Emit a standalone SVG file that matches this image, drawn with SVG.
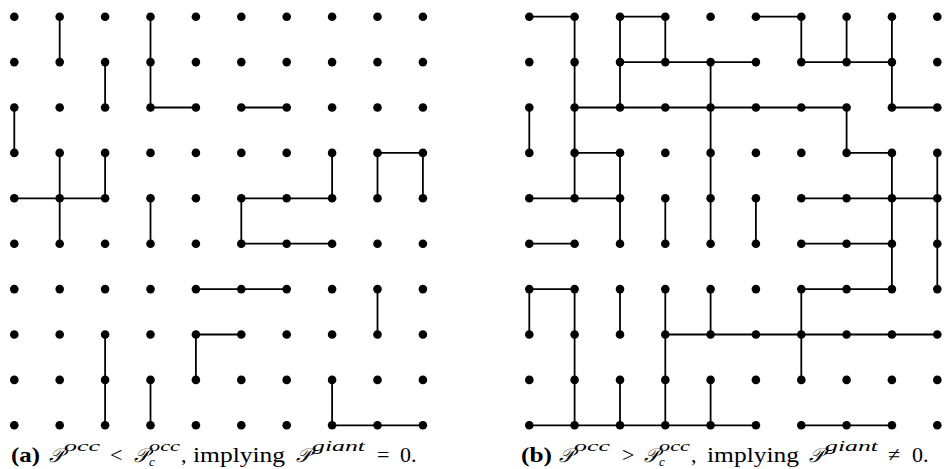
<svg xmlns="http://www.w3.org/2000/svg" width="946" height="469" viewBox="0 0 946 469">
<style>
.d{fill:#000}
.e line{stroke:#000;stroke-width:1.8}
text{font-family:"Liberation Serif","DejaVu Serif",serif;fill:#000}
.m{font-size:22px}
.b{font-weight:bold}
.s{font-size:15px;font-style:italic}
.u{font-size:13px;font-style:italic}
.p{font-size:20px;font-family:"DejaVu Sans","Noto Sans",serif;font-style:italic}
</style>
<g id="connectors" class="e">
<g id="conn-a">
<line x1="59.7" y1="16.7" x2="59.7" y2="62.1"/>
<line x1="150.5" y1="16.7" x2="150.5" y2="107.5"/>
<line x1="105.1" y1="62.1" x2="105.1" y2="107.5"/>
<line x1="14.3" y1="107.5" x2="14.3" y2="152.9"/>
<line x1="59.7" y1="152.9" x2="59.7" y2="243.7"/>
<line x1="105.1" y1="152.9" x2="105.1" y2="198.3"/>
<line x1="150.5" y1="198.3" x2="150.5" y2="243.7"/>
<line x1="332.1" y1="152.9" x2="332.1" y2="198.3"/>
<line x1="377.5" y1="152.9" x2="377.5" y2="198.3"/>
<line x1="422.9" y1="152.9" x2="422.9" y2="198.3"/>
<line x1="241.3" y1="198.3" x2="241.3" y2="243.7"/>
<line x1="195.9" y1="334.5" x2="195.9" y2="379.9"/>
<line x1="105.1" y1="334.5" x2="105.1" y2="425.3"/>
<line x1="150.5" y1="379.9" x2="150.5" y2="425.3"/>
<line x1="377.5" y1="289.1" x2="377.5" y2="334.5"/>
<line x1="332.1" y1="379.9" x2="332.1" y2="425.3"/>
<line x1="150.5" y1="107.5" x2="195.9" y2="107.5"/>
<line x1="14.3" y1="198.3" x2="105.1" y2="198.3"/>
<line x1="241.3" y1="107.5" x2="286.7" y2="107.5"/>
<line x1="377.5" y1="152.9" x2="422.9" y2="152.9"/>
<line x1="241.3" y1="198.3" x2="332.1" y2="198.3"/>
<line x1="241.3" y1="243.7" x2="332.1" y2="243.7"/>
<line x1="195.9" y1="289.1" x2="286.7" y2="289.1"/>
<line x1="195.9" y1="334.5" x2="241.3" y2="334.5"/>
<line x1="332.1" y1="425.3" x2="422.9" y2="425.3"/>
</g>
<g id="conn-b">
<line x1="574.6" y1="16.7" x2="574.6" y2="198.3"/>
<line x1="620" y1="16.7" x2="620" y2="107.5"/>
<line x1="665.3" y1="16.7" x2="665.3" y2="62.1"/>
<line x1="710.6" y1="62.1" x2="710.6" y2="243.7"/>
<line x1="529.3" y1="107.5" x2="529.3" y2="152.9"/>
<line x1="620" y1="152.9" x2="620" y2="243.7"/>
<line x1="665.3" y1="198.3" x2="665.3" y2="243.7"/>
<line x1="801.3" y1="16.7" x2="801.3" y2="62.1"/>
<line x1="846.6" y1="16.7" x2="846.6" y2="62.1"/>
<line x1="891.9" y1="16.7" x2="891.9" y2="107.5"/>
<line x1="846.6" y1="107.5" x2="846.6" y2="152.9"/>
<line x1="891.9" y1="152.9" x2="891.9" y2="289.1"/>
<line x1="937.3" y1="152.9" x2="937.3" y2="289.1"/>
<line x1="755.9" y1="198.3" x2="755.9" y2="243.7"/>
<line x1="529.3" y1="289.1" x2="529.3" y2="334.5"/>
<line x1="574.6" y1="289.1" x2="574.6" y2="425.3"/>
<line x1="620" y1="289.1" x2="620" y2="334.5"/>
<line x1="665.3" y1="289.1" x2="665.3" y2="425.3"/>
<line x1="710.6" y1="289.1" x2="710.6" y2="334.5"/>
<line x1="620" y1="379.9" x2="620" y2="425.3"/>
<line x1="710.6" y1="379.9" x2="710.6" y2="425.3"/>
<line x1="801.3" y1="289.1" x2="801.3" y2="379.9"/>
<line x1="529.3" y1="16.7" x2="574.6" y2="16.7"/>
<line x1="620" y1="16.7" x2="665.3" y2="16.7"/>
<line x1="755.9" y1="16.7" x2="801.3" y2="16.7"/>
<line x1="620" y1="62.1" x2="755.9" y2="62.1"/>
<line x1="801.3" y1="62.1" x2="891.9" y2="62.1"/>
<line x1="574.6" y1="107.5" x2="846.6" y2="107.5"/>
<line x1="891.9" y1="107.5" x2="937.3" y2="107.5"/>
<line x1="574.6" y1="152.9" x2="620" y2="152.9"/>
<line x1="846.6" y1="152.9" x2="891.9" y2="152.9"/>
<line x1="529.3" y1="198.3" x2="620" y2="198.3"/>
<line x1="801.3" y1="198.3" x2="937.3" y2="198.3"/>
<line x1="529.3" y1="243.7" x2="574.6" y2="243.7"/>
<line x1="801.3" y1="243.7" x2="891.9" y2="243.7"/>
<line x1="529.3" y1="289.1" x2="574.6" y2="289.1"/>
<line x1="801.3" y1="289.1" x2="891.9" y2="289.1"/>
<line x1="665.3" y1="334.5" x2="937.3" y2="334.5"/>
<line x1="529.3" y1="425.3" x2="755.9" y2="425.3"/>
<line x1="801.3" y1="425.3" x2="891.9" y2="425.3"/>
</g>
</g>
<g id="nodes-a" class="d">
<g id="a0-0"><circle cx="14.3" cy="16.7" r="4.3"/></g><g id="a1-0"><circle cx="59.7" cy="16.7" r="4.3"/></g><g id="a2-0"><circle cx="105.1" cy="16.7" r="4.3"/></g><g id="a3-0"><circle cx="150.5" cy="16.7" r="4.3"/></g><g id="a4-0"><circle cx="195.9" cy="16.7" r="4.3"/></g><g id="a5-0"><circle cx="241.3" cy="16.7" r="4.3"/></g><g id="a6-0"><circle cx="286.7" cy="16.7" r="4.3"/></g><g id="a7-0"><circle cx="332.1" cy="16.7" r="4.3"/></g><g id="a8-0"><circle cx="377.5" cy="16.7" r="4.3"/></g><g id="a9-0"><circle cx="422.9" cy="16.7" r="4.3"/></g>
<g id="a0-1"><circle cx="14.3" cy="62.1" r="4.3"/></g><g id="a1-1"><circle cx="59.7" cy="62.1" r="4.3"/></g><g id="a2-1"><circle cx="105.1" cy="62.1" r="4.3"/></g><g id="a3-1"><circle cx="150.5" cy="62.1" r="4.3"/></g><g id="a4-1"><circle cx="195.9" cy="62.1" r="4.3"/></g><g id="a5-1"><circle cx="241.3" cy="62.1" r="4.3"/></g><g id="a6-1"><circle cx="286.7" cy="62.1" r="4.3"/></g><g id="a7-1"><circle cx="332.1" cy="62.1" r="4.3"/></g><g id="a8-1"><circle cx="377.5" cy="62.1" r="4.3"/></g><g id="a9-1"><circle cx="422.9" cy="62.1" r="4.3"/></g>
<g id="a0-2"><circle cx="14.3" cy="107.5" r="4.3"/></g><g id="a1-2"><circle cx="59.7" cy="107.5" r="4.3"/></g><g id="a2-2"><circle cx="105.1" cy="107.5" r="4.3"/></g><g id="a3-2"><circle cx="150.5" cy="107.5" r="4.3"/></g><g id="a4-2"><circle cx="195.9" cy="107.5" r="4.3"/></g><g id="a5-2"><circle cx="241.3" cy="107.5" r="4.3"/></g><g id="a6-2"><circle cx="286.7" cy="107.5" r="4.3"/></g><g id="a7-2"><circle cx="332.1" cy="107.5" r="4.3"/></g><g id="a8-2"><circle cx="377.5" cy="107.5" r="4.3"/></g><g id="a9-2"><circle cx="422.9" cy="107.5" r="4.3"/></g>
<g id="a0-3"><circle cx="14.3" cy="152.9" r="4.3"/></g><g id="a1-3"><circle cx="59.7" cy="152.9" r="4.3"/></g><g id="a2-3"><circle cx="105.1" cy="152.9" r="4.3"/></g><g id="a3-3"><circle cx="150.5" cy="152.9" r="4.3"/></g><g id="a4-3"><circle cx="195.9" cy="152.9" r="4.3"/></g><g id="a5-3"><circle cx="241.3" cy="152.9" r="4.3"/></g><g id="a6-3"><circle cx="286.7" cy="152.9" r="4.3"/></g><g id="a7-3"><circle cx="332.1" cy="152.9" r="4.3"/></g><g id="a8-3"><circle cx="377.5" cy="152.9" r="4.3"/></g><g id="a9-3"><circle cx="422.9" cy="152.9" r="4.3"/></g>
<g id="a0-4"><circle cx="14.3" cy="198.3" r="4.3"/></g><g id="a1-4"><circle cx="59.7" cy="198.3" r="4.3"/></g><g id="a2-4"><circle cx="105.1" cy="198.3" r="4.3"/></g><g id="a3-4"><circle cx="150.5" cy="198.3" r="4.3"/></g><g id="a4-4"><circle cx="195.9" cy="198.3" r="4.3"/></g><g id="a5-4"><circle cx="241.3" cy="198.3" r="4.3"/></g><g id="a6-4"><circle cx="286.7" cy="198.3" r="4.3"/></g><g id="a7-4"><circle cx="332.1" cy="198.3" r="4.3"/></g><g id="a8-4"><circle cx="377.5" cy="198.3" r="4.3"/></g><g id="a9-4"><circle cx="422.9" cy="198.3" r="4.3"/></g>
<g id="a0-5"><circle cx="14.3" cy="243.7" r="4.3"/></g><g id="a1-5"><circle cx="59.7" cy="243.7" r="4.3"/></g><g id="a2-5"><circle cx="105.1" cy="243.7" r="4.3"/></g><g id="a3-5"><circle cx="150.5" cy="243.7" r="4.3"/></g><g id="a4-5"><circle cx="195.9" cy="243.7" r="4.3"/></g><g id="a5-5"><circle cx="241.3" cy="243.7" r="4.3"/></g><g id="a6-5"><circle cx="286.7" cy="243.7" r="4.3"/></g><g id="a7-5"><circle cx="332.1" cy="243.7" r="4.3"/></g><g id="a8-5"><circle cx="377.5" cy="243.7" r="4.3"/></g><g id="a9-5"><circle cx="422.9" cy="243.7" r="4.3"/></g>
<g id="a0-6"><circle cx="14.3" cy="289.1" r="4.3"/></g><g id="a1-6"><circle cx="59.7" cy="289.1" r="4.3"/></g><g id="a2-6"><circle cx="105.1" cy="289.1" r="4.3"/></g><g id="a3-6"><circle cx="150.5" cy="289.1" r="4.3"/></g><g id="a4-6"><circle cx="195.9" cy="289.1" r="4.3"/></g><g id="a5-6"><circle cx="241.3" cy="289.1" r="4.3"/></g><g id="a6-6"><circle cx="286.7" cy="289.1" r="4.3"/></g><g id="a7-6"><circle cx="332.1" cy="289.1" r="4.3"/></g><g id="a8-6"><circle cx="377.5" cy="289.1" r="4.3"/></g><g id="a9-6"><circle cx="422.9" cy="289.1" r="4.3"/></g>
<g id="a0-7"><circle cx="14.3" cy="334.5" r="4.3"/></g><g id="a1-7"><circle cx="59.7" cy="334.5" r="4.3"/></g><g id="a2-7"><circle cx="105.1" cy="334.5" r="4.3"/></g><g id="a3-7"><circle cx="150.5" cy="334.5" r="4.3"/></g><g id="a4-7"><circle cx="195.9" cy="334.5" r="4.3"/></g><g id="a5-7"><circle cx="241.3" cy="334.5" r="4.3"/></g><g id="a6-7"><circle cx="286.7" cy="334.5" r="4.3"/></g><g id="a7-7"><circle cx="332.1" cy="334.5" r="4.3"/></g><g id="a8-7"><circle cx="377.5" cy="334.5" r="4.3"/></g><g id="a9-7"><circle cx="422.9" cy="334.5" r="4.3"/></g>
<g id="a0-8"><circle cx="14.3" cy="379.9" r="4.3"/></g><g id="a1-8"><circle cx="59.7" cy="379.9" r="4.3"/></g><g id="a2-8"><circle cx="105.1" cy="379.9" r="4.3"/></g><g id="a3-8"><circle cx="150.5" cy="379.9" r="4.3"/></g><g id="a4-8"><circle cx="195.9" cy="379.9" r="4.3"/></g><g id="a5-8"><circle cx="241.3" cy="379.9" r="4.3"/></g><g id="a6-8"><circle cx="286.7" cy="379.9" r="4.3"/></g><g id="a7-8"><circle cx="332.1" cy="379.9" r="4.3"/></g><g id="a8-8"><circle cx="377.5" cy="379.9" r="4.3"/></g><g id="a9-8"><circle cx="422.9" cy="379.9" r="4.3"/></g>
<g id="a0-9"><circle cx="14.3" cy="425.3" r="4.3"/></g><g id="a1-9"><circle cx="59.7" cy="425.3" r="4.3"/></g><g id="a2-9"><circle cx="105.1" cy="425.3" r="4.3"/></g><g id="a3-9"><circle cx="150.5" cy="425.3" r="4.3"/></g><g id="a4-9"><circle cx="195.9" cy="425.3" r="4.3"/></g><g id="a5-9"><circle cx="241.3" cy="425.3" r="4.3"/></g><g id="a6-9"><circle cx="286.7" cy="425.3" r="4.3"/></g><g id="a7-9"><circle cx="332.1" cy="425.3" r="4.3"/></g><g id="a8-9"><circle cx="377.5" cy="425.3" r="4.3"/></g><g id="a9-9"><circle cx="422.9" cy="425.3" r="4.3"/></g>
</g>
<g id="nodes-b" class="d">
<g id="b0-0"><circle cx="529.3" cy="16.7" r="4.3"/></g><g id="b1-0"><circle cx="574.6" cy="16.7" r="4.3"/></g><g id="b2-0"><circle cx="620" cy="16.7" r="4.3"/></g><g id="b3-0"><circle cx="665.3" cy="16.7" r="4.3"/></g><g id="b4-0"><circle cx="710.6" cy="16.7" r="4.3"/></g><g id="b5-0"><circle cx="755.9" cy="16.7" r="4.3"/></g><g id="b6-0"><circle cx="801.3" cy="16.7" r="4.3"/></g><g id="b7-0"><circle cx="846.6" cy="16.7" r="4.3"/></g><g id="b8-0"><circle cx="891.9" cy="16.7" r="4.3"/></g><g id="b9-0"><circle cx="937.3" cy="16.7" r="4.3"/></g>
<g id="b0-1"><circle cx="529.3" cy="62.1" r="4.3"/></g><g id="b1-1"><circle cx="574.6" cy="62.1" r="4.3"/></g><g id="b2-1"><circle cx="620" cy="62.1" r="4.3"/></g><g id="b3-1"><circle cx="665.3" cy="62.1" r="4.3"/></g><g id="b4-1"><circle cx="710.6" cy="62.1" r="4.3"/></g><g id="b5-1"><circle cx="755.9" cy="62.1" r="4.3"/></g><g id="b6-1"><circle cx="801.3" cy="62.1" r="4.3"/></g><g id="b7-1"><circle cx="846.6" cy="62.1" r="4.3"/></g><g id="b8-1"><circle cx="891.9" cy="62.1" r="4.3"/></g><g id="b9-1"><circle cx="937.3" cy="62.1" r="4.3"/></g>
<g id="b0-2"><circle cx="529.3" cy="107.5" r="4.3"/></g><g id="b1-2"><circle cx="574.6" cy="107.5" r="4.3"/></g><g id="b2-2"><circle cx="620" cy="107.5" r="4.3"/></g><g id="b3-2"><circle cx="665.3" cy="107.5" r="4.3"/></g><g id="b4-2"><circle cx="710.6" cy="107.5" r="4.3"/></g><g id="b5-2"><circle cx="755.9" cy="107.5" r="4.3"/></g><g id="b6-2"><circle cx="801.3" cy="107.5" r="4.3"/></g><g id="b7-2"><circle cx="846.6" cy="107.5" r="4.3"/></g><g id="b8-2"><circle cx="891.9" cy="107.5" r="4.3"/></g><g id="b9-2"><circle cx="937.3" cy="107.5" r="4.3"/></g>
<g id="b0-3"><circle cx="529.3" cy="152.9" r="4.3"/></g><g id="b1-3"><circle cx="574.6" cy="152.9" r="4.3"/></g><g id="b2-3"><circle cx="620" cy="152.9" r="4.3"/></g><g id="b3-3"><circle cx="665.3" cy="152.9" r="4.3"/></g><g id="b4-3"><circle cx="710.6" cy="152.9" r="4.3"/></g><g id="b5-3"><circle cx="755.9" cy="152.9" r="4.3"/></g><g id="b6-3"><circle cx="801.3" cy="152.9" r="4.3"/></g><g id="b7-3"><circle cx="846.6" cy="152.9" r="4.3"/></g><g id="b8-3"><circle cx="891.9" cy="152.9" r="4.3"/></g><g id="b9-3"><circle cx="937.3" cy="152.9" r="4.3"/></g>
<g id="b0-4"><circle cx="529.3" cy="198.3" r="4.3"/></g><g id="b1-4"><circle cx="574.6" cy="198.3" r="4.3"/></g><g id="b2-4"><circle cx="620" cy="198.3" r="4.3"/></g><g id="b3-4"><circle cx="665.3" cy="198.3" r="4.3"/></g><g id="b4-4"><circle cx="710.6" cy="198.3" r="4.3"/></g><g id="b5-4"><circle cx="755.9" cy="198.3" r="4.3"/></g><g id="b6-4"><circle cx="801.3" cy="198.3" r="4.3"/></g><g id="b7-4"><circle cx="846.6" cy="198.3" r="4.3"/></g><g id="b8-4"><circle cx="891.9" cy="198.3" r="4.3"/></g><g id="b9-4"><circle cx="937.3" cy="198.3" r="4.3"/></g>
<g id="b0-5"><circle cx="529.3" cy="243.7" r="4.3"/></g><g id="b1-5"><circle cx="574.6" cy="243.7" r="4.3"/></g><g id="b2-5"><circle cx="620" cy="243.7" r="4.3"/></g><g id="b3-5"><circle cx="665.3" cy="243.7" r="4.3"/></g><g id="b4-5"><circle cx="710.6" cy="243.7" r="4.3"/></g><g id="b5-5"><circle cx="755.9" cy="243.7" r="4.3"/></g><g id="b6-5"><circle cx="801.3" cy="243.7" r="4.3"/></g><g id="b7-5"><circle cx="846.6" cy="243.7" r="4.3"/></g><g id="b8-5"><circle cx="891.9" cy="243.7" r="4.3"/></g><g id="b9-5"><circle cx="937.3" cy="243.7" r="4.3"/></g>
<g id="b0-6"><circle cx="529.3" cy="289.1" r="4.3"/></g><g id="b1-6"><circle cx="574.6" cy="289.1" r="4.3"/></g><g id="b2-6"><circle cx="620" cy="289.1" r="4.3"/></g><g id="b3-6"><circle cx="665.3" cy="289.1" r="4.3"/></g><g id="b4-6"><circle cx="710.6" cy="289.1" r="4.3"/></g><g id="b5-6"><circle cx="755.9" cy="289.1" r="4.3"/></g><g id="b6-6"><circle cx="801.3" cy="289.1" r="4.3"/></g><g id="b7-6"><circle cx="846.6" cy="289.1" r="4.3"/></g><g id="b8-6"><circle cx="891.9" cy="289.1" r="4.3"/></g><g id="b9-6"><circle cx="937.3" cy="289.1" r="4.3"/></g>
<g id="b0-7"><circle cx="529.3" cy="334.5" r="4.3"/></g><g id="b1-7"><circle cx="574.6" cy="334.5" r="4.3"/></g><g id="b2-7"><circle cx="620" cy="334.5" r="4.3"/></g><g id="b3-7"><circle cx="665.3" cy="334.5" r="4.3"/></g><g id="b4-7"><circle cx="710.6" cy="334.5" r="4.3"/></g><g id="b5-7"><circle cx="755.9" cy="334.5" r="4.3"/></g><g id="b6-7"><circle cx="801.3" cy="334.5" r="4.3"/></g><g id="b7-7"><circle cx="846.6" cy="334.5" r="4.3"/></g><g id="b8-7"><circle cx="891.9" cy="334.5" r="4.3"/></g><g id="b9-7"><circle cx="937.3" cy="334.5" r="4.3"/></g>
<g id="b0-8"><circle cx="529.3" cy="379.9" r="4.3"/></g><g id="b1-8"><circle cx="574.6" cy="379.9" r="4.3"/></g><g id="b2-8"><circle cx="620" cy="379.9" r="4.3"/></g><g id="b3-8"><circle cx="665.3" cy="379.9" r="4.3"/></g><g id="b4-8"><circle cx="710.6" cy="379.9" r="4.3"/></g><g id="b5-8"><circle cx="755.9" cy="379.9" r="4.3"/></g><g id="b6-8"><circle cx="801.3" cy="379.9" r="4.3"/></g><g id="b7-8"><circle cx="846.6" cy="379.9" r="4.3"/></g><g id="b8-8"><circle cx="891.9" cy="379.9" r="4.3"/></g><g id="b9-8"><circle cx="937.3" cy="379.9" r="4.3"/></g>
<g id="b0-9"><circle cx="529.3" cy="425.3" r="4.3"/></g><g id="b1-9"><circle cx="574.6" cy="425.3" r="4.3"/></g><g id="b2-9"><circle cx="620" cy="425.3" r="4.3"/></g><g id="b3-9"><circle cx="665.3" cy="425.3" r="4.3"/></g><g id="b4-9"><circle cx="710.6" cy="425.3" r="4.3"/></g><g id="b5-9"><circle cx="755.9" cy="425.3" r="4.3"/></g><g id="b6-9"><circle cx="801.3" cy="425.3" r="4.3"/></g><g id="b7-9"><circle cx="846.6" cy="425.3" r="4.3"/></g><g id="b8-9"><circle cx="891.9" cy="425.3" r="4.3"/></g><g id="b9-9"><circle cx="937.3" cy="425.3" r="4.3"/></g>
</g>
<g id="caption-a">
<text class="m b" x="11" y="462" textLength="29" lengthAdjust="spacingAndGlyphs">(a)</text>
<text class="p" x="49" y="462" textLength="14" lengthAdjust="spacingAndGlyphs">𝒫</text>
<text class="s" x="64" y="451" textLength="36" lengthAdjust="spacingAndGlyphs">occ</text>
<text class="m" x="110" y="462">&lt;</text>
<text class="p" x="134" y="462" textLength="14" lengthAdjust="spacingAndGlyphs">𝒫</text>
<text class="s" x="149" y="451" textLength="31" lengthAdjust="spacingAndGlyphs">occ</text>
<text class="u" x="149" y="465.5">c</text>
<text class="m" x="181" y="462">,</text>
<text class="m" x="193" y="462" textLength="92" lengthAdjust="spacingAndGlyphs">implying</text>
<text class="p" x="296" y="462" textLength="14" lengthAdjust="spacingAndGlyphs">𝒫</text>
<text class="s" x="312" y="451" textLength="53" lengthAdjust="spacingAndGlyphs">giant</text>
<text class="m" x="377" y="462">=</text>
<text class="m" x="400" y="462">0.</text>
</g>
<g id="caption-b">
<text class="m b" x="521" y="462" textLength="31" lengthAdjust="spacingAndGlyphs">(b)</text>
<text class="p" x="559" y="462" textLength="14" lengthAdjust="spacingAndGlyphs">𝒫</text>
<text class="s" x="574" y="451" textLength="36" lengthAdjust="spacingAndGlyphs">occ</text>
<text class="m" x="622" y="462">&gt;</text>
<text class="p" x="644" y="462" textLength="14" lengthAdjust="spacingAndGlyphs">𝒫</text>
<text class="s" x="659" y="451" textLength="31" lengthAdjust="spacingAndGlyphs">occ</text>
<text class="u" x="659" y="465.5">c</text>
<text class="m" x="691" y="462">,</text>
<text class="m" x="707" y="462" textLength="92" lengthAdjust="spacingAndGlyphs">implying</text>
<text class="p" x="809" y="462" textLength="14" lengthAdjust="spacingAndGlyphs">𝒫</text>
<text class="s" x="825" y="451" textLength="53" lengthAdjust="spacingAndGlyphs">giant</text>
<text class="m" x="888" y="462">≠</text>
<text class="m" x="912" y="462">0.</text>
</g>
</svg>
